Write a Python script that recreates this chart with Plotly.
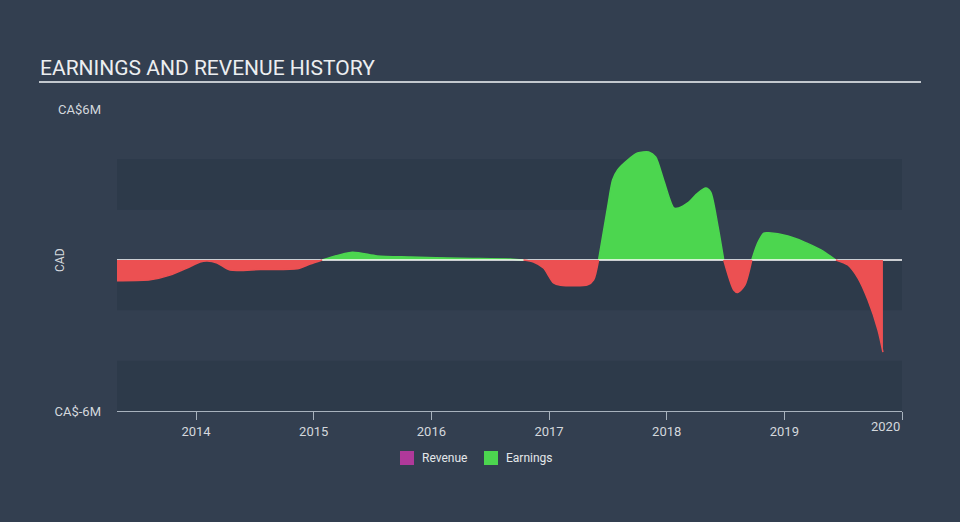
import plotly.graph_objects as go

# ---- data ----
years = [2013.328, 2013.609, 2013.779, 2013.923, 2014.034, 2014.094, 2014.179, 2014.289,
         2014.545, 2014.860, 2014.970, 2015.072, 2015.328, 2015.540, 2015.821, 2016.247,
         2016.672, 2016.783, 2016.868, 2016.953, 2017.038, 2017.098, 2017.328, 2017.379,
         2017.421, 2017.498, 2017.540, 2017.583, 2017.668, 2017.753, 2017.847, 2017.906,
         2017.974, 2018.060, 2018.102, 2018.179, 2018.264, 2018.332, 2018.374, 2018.434,
         2018.485, 2018.570, 2018.604, 2018.664, 2018.723, 2018.774, 2018.826, 2018.868,
         2019.030, 2019.166, 2019.311, 2019.438, 2019.540, 2019.626, 2019.711, 2019.796,
         2019.838]
earnings = [-0.82, -0.79, -0.60, -0.32, -0.08, -0.04, -0.12, -0.40,
            -0.38, -0.35, -0.16, 0.0, 0.31, 0.16, 0.12, 0.07,
            0.04, 0.0, -0.08, -0.32, -0.91, -1.0, -0.99, -0.79,
            0.0, 2.11, 3.18, 3.58, 3.97, 4.25, 4.29, 4.09,
            3.18, 2.07, 2.07, 2.27, 2.66, 2.86, 2.70, 1.39,
            0.0, -1.19, -1.29, -1.0, 0.0, 0.68, 1.07, 1.08,
            0.95, 0.72, 0.40, 0.0, -0.20, -0.72, -1.59, -2.78,
            -3.66]
tick_years = [2014, 2015, 2016, 2017, 2018, 2019, 2020]
tick_text = ["2014", "2015", "2016", "2017", "2018", "2019", ""]
y_ticks = [-6, 6]
y_tick_text = ["CA$-6M", "CA$6M"]
legend_names = ["Revenue", "Earnings"]

# ---- styling ----
BG = "#333f50"
BAND = "#2d3a4a"
GREEN = "#4cd64f"
RED = "#ec5052"
PURPLE = "#b0399a"
TXT = "#d4d8dd"
AXIS = "#a8b2bd"

L, R, T, B = 117, 58, 109, 111
W, H = 960, 522
PW, PH = W - L - R, H - T - B

def xp(px):
    return (px - L) / PW

def yp(py):
    return (H - B - py) / PH

pos = [v if v >= 0 else None for v in earnings]
neg = [v if v <= 0 else None for v in earnings]

fig = go.Figure()

fig.add_trace(go.Scatter(x=years, y=pos, mode="lines", fill="tozeroy",
                         line=dict(color=GREEN, width=1.5, shape="spline", smoothing=0.7),
                         fillcolor=GREEN, showlegend=False, hoverinfo="skip",
                         connectgaps=False))
fig.add_trace(go.Scatter(x=[2013.328, 2020.0], y=[0, 0], mode="lines",
                         line=dict(color="#ffffff", width=1.5),
                         showlegend=False, hoverinfo="skip"))
fig.add_trace(go.Scatter(x=years, y=neg, mode="lines", fill="tozeroy",
                         line=dict(color=RED, width=1.5, shape="spline", smoothing=0.7),
                         fillcolor=RED, showlegend=False, hoverinfo="skip",
                         connectgaps=False))

shapes = []
for y0, y1 in [(2, 4), (-2, 0), (-6, -4)]:
    shapes.append(dict(type="rect", xref="paper", yref="y", x0=0, x1=1, y0=y0, y1=y1,
                       fillcolor=BAND, line=dict(width=0), layer="below"))
shapes.append(dict(type="line", xref="paper", yref="paper", x0=xp(39), x1=xp(921),
                   y0=yp(82), y1=yp(82), line=dict(color="#c3c8ce", width=2)))

annotations = [
    dict(text="EARNINGS AND REVENUE HISTORY", xref="paper", yref="paper",
         x=xp(38), y=yp(68), xanchor="left", yanchor="middle", showarrow=False,
         font=dict(family="Roboto", size=21, color="#eceef0")),
    dict(text="CAD", xref="paper", yref="paper", x=xp(60), y=yp(260),
         xanchor="center", yanchor="middle", showarrow=False, textangle=-90,
         font=dict(family="Roboto", size=12, color=TXT)),
    dict(text="2020", xref="x", yref="paper", x=2020.0, y=yp(417),
         xanchor="right", yanchor="top", showarrow=False,
         font=dict(family="Roboto", size=13, color=TXT)),
]

# legend drawn as squares + text
legend_colors = [PURPLE, GREEN]
legend_sq_x = [400, 484]
for name, col, sx in zip(legend_names, legend_colors, legend_sq_x):
    shapes.append(dict(type="rect", xref="paper", yref="paper",
                       x0=xp(sx), x1=xp(sx + 14), y0=yp(465), y1=yp(451),
                       fillcolor=col, line=dict(width=0)))
    annotations.append(dict(text=name, xref="paper", yref="paper", x=xp(sx + 20),
                            y=yp(458), xanchor="left", yanchor="middle", showarrow=False,
                            font=dict(family="Roboto", size=12, color="#e4e7ea")))

fig.update_layout(
    width=W, height=H,
    margin=dict(l=L, r=R, t=T, b=B),
    paper_bgcolor=BG, plot_bgcolor=BG,
    font=dict(family="Roboto", size=12, color=TXT),
    shapes=shapes, annotations=annotations,
    showlegend=False,
    xaxis=dict(range=[2013.328, 2020.0], tickvals=tick_years, ticktext=tick_text,
               showgrid=False, zeroline=False, showline=True, linecolor=AXIS, linewidth=1,
               ticks="outside", ticklen=8, tickcolor=AXIS, tickwidth=1,
               tickfont=dict(family="Roboto", size=13, color=TXT)),
    yaxis=dict(range=[-6, 6], tickvals=y_ticks, ticktext=y_tick_text,
               showgrid=False, zeroline=False, showline=False, ticks="",
               ticklabelstandoff=15,
               tickfont=dict(family="Roboto", size=13, color=TXT)),
)

fig.write_html("out.html")
